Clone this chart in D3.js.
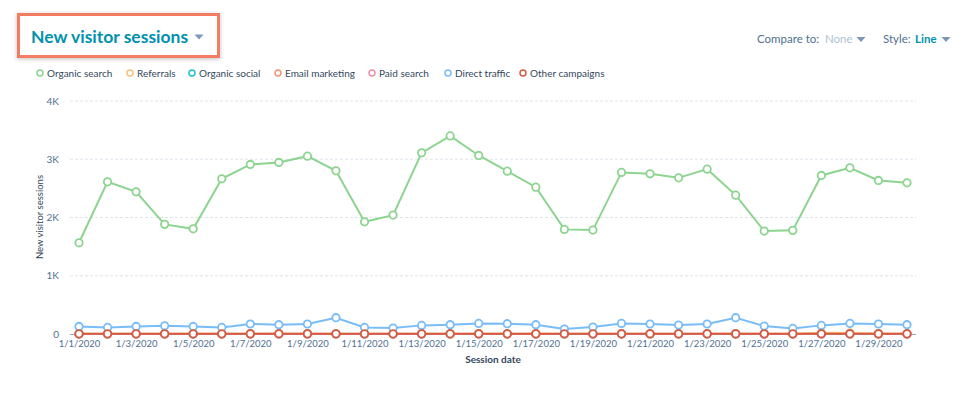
<!DOCTYPE html>
<html lang="en">
<head>
<meta charset="UTF-8">
<title>New visitor sessions</title>
<script src="https://cdn.jsdelivr.net/npm/d3@7"></script>
<style>
  body { margin: 0; background: #fff; font-family: Lato, "Open Sans", sans-serif; }
  svg text { font-family: Lato, "Open Sans", sans-serif; }
</style>
</head>
<body>
<svg id="chart" width="975" height="396"></svg>
<script>
// Data: daily values, 1/1/2020 .. 1/30/2020
var dates = d3.range(1, 31).map(function(d) { return new Date(2020, 0, d); });

var organicSearch = [1566, 2612, 2441, 1882, 1806, 2664, 2911, 2945, 3053, 2801,
                     1926, 2041, 3110, 3401, 3065, 2796, 2521, 1796, 1784, 2774,
                     2750, 2681, 2830, 2384, 1767, 1779, 2722, 2852, 2636, 2595];
var referrals = [4, 3, 4, 5, 4, 3, 6, 8, 5, 4, 3, 3, 5, 6, 6, 5, 6, 4, 5, 6,
                 6, 5, 6, 7, 5, 4, 22, 18, 8, 6];
var organicSocial = [1, 1, 1, 1, 1, 1, 1, 1, 1, 1, 1, 1, 1, 1, 1,
                     1, 1, 1, 1, 1, 1, 1, 1, 1, 1, 1, 1, 1, 1, 1];
var emailMarketing = [0, 0, 0, 0, 0, 0, 0, 0, 0, 0, 0, 0, 0, 0, 0,
                      0, 0, 0, 0, 0, 0, 0, 0, 0, 0, 0, 0, 0, 0, 0];
var paidSearch = [0, 0, 0, 0, 0, 0, 0, 0, 0, 0, 0, 0, 0, 0, 0,
                  0, 0, 0, 0, 0, 0, 0, 0, 0, 0, 0, 0, 0, 0, 0];
var directTraffic = [130, 113, 130, 142, 130, 113, 172, 160, 172, 280,
                     113, 103, 148, 160, 182, 177, 160, 86, 120, 182,
                     172, 154, 172, 280, 137, 96, 148, 182, 172, 160];
var otherCampaigns = [3, 3, 3, 3, 3, 3, 3, 4, 3, 3, 3, 3, 3, 3, 4,
                      3, 3, 4, 3, 3, 4, 3, 3, 3, 3, 3, 4, 3, 3, 3];

var seriesNames = ["Organic search", "Referrals", "Organic social", "Email marketing",
                   "Paid search", "Direct traffic", "Other campaigns"];
var seriesColors = ["#8cd48f", "#f8c27a", "#1bc3d2", "#f3937a", "#ee8fa8", "#78bcf8", "#d45a40"];
var seriesValues = [organicSearch, referrals, organicSocial, emailMarketing,
                    paidSearch, directTraffic, otherCampaigns];
var yTicks = [0, 1000, 2000, 3000, 4000];
var yTickLabels = ["0", "1K", "2K", "3K", "4K"];

var svg = d3.select("#chart");

// Title box
svg.append("rect")
  .attr("x", 18.5).attr("y", 14.5).attr("width", 200).attr("height", 42)
  .attr("fill", "#fff")
  .attr("stroke", "#f47c62")
  .attr("stroke-width", 3)
  .style("filter", "drop-shadow(0px 1px 2px rgba(0,0,0,0.25))");

svg.append("text")
  .attr("x", 31).attr("y", 43)
  .attr("font-size", "17.5px")
  .attr("font-weight", "bold")
  .attr("fill", "#0091ae")
  .text("New visitor sessions");

function caret(x, y, color) {
  svg.append("path")
    .attr("d", "M" + (x - 4.5) + "," + (y - 2.5) + "L" + (x + 4.5) + "," + (y - 2.5) + "L" + x + "," + (y + 2.5) + "Z")
    .attr("fill", color);
}
caret(199, 37, "#7c98b6");

// Compare to / Style controls
svg.append("text").attr("x", 757).attr("y", 43).attr("font-size", "11.5px")
  .attr("fill", "#516f90").text("Compare to:");
svg.append("text").attr("x", 825).attr("y", 43).attr("font-size", "11.5px")
  .attr("fill", "#b0c1d4").text("None");
caret(861, 39.5, "#7c98b6");
svg.append("text").attr("x", 883).attr("y", 43).attr("font-size", "11.5px")
  .attr("fill", "#516f90").text("Style:");
svg.append("text").attr("x", 915).attr("y", 43).attr("font-size", "11.5px")
  .attr("font-weight", "bold").attr("fill", "#0091ae").text("Line");
caret(946, 39.5, "#7c98b6");

// Legend
var legendX = [40, 130, 192, 278, 372, 448, 523];
var legend = svg.selectAll(".legend")
  .data(seriesNames)
  .enter()
  .append("g")
  .attr("class", "legend")
  .attr("transform", function(d, i) { return "translate(" + legendX[i] + ",73)"; });
legend.append("circle")
  .attr("r", 3)
  .attr("fill", "#fff")
  .attr("stroke", function(d, i) { return seriesColors[i]; })
  .attr("stroke-width", 1.5);
legend.append("text")
  .attr("x", 7).attr("y", 3.5)
  .attr("font-size", "10px")
  .attr("fill", "#33475b")
  .text(function(d) { return d; });

// Scales
var xScale = d3.scaleTime()
  .domain([dates[0], dates[dates.length - 1]])
  .range([79, 907]);
var yScale = d3.scaleLinear()
  .domain([0, 4000])
  .range([334, 101]);

// Gridlines
svg.selectAll(".grid")
  .data(yTicks.slice(1))
  .enter()
  .append("line")
  .attr("x1", 70).attr("x2", 916)
  .attr("y1", function(d) { return yScale(d); })
  .attr("y2", function(d) { return yScale(d); })
  .attr("stroke", "#dfe3eb")
  .attr("stroke-dasharray", "3,2");

// Y axis
var yAxis = svg.append("g")
  .attr("transform", "translate(62,0)")
  .call(d3.axisLeft(yScale).tickValues(yTicks).tickSize(0)
    .tickFormat(function(d, i) { return yTickLabels[i]; }));
yAxis.select(".domain").remove();
yAxis.selectAll("text").attr("font-size", "10px").attr("fill", "#516f90")
  .attr("font-family", "Lato, sans-serif");

svg.append("text")
  .attr("transform", "translate(43,217) rotate(-90)")
  .attr("text-anchor", "middle")
  .attr("font-size", "9.5px")
  .attr("fill", "#33475b")
  .text("New visitor sessions");

// X axis
var xTicks = dates.filter(function(d, i) { return i % 2 === 0; });
var xAxis = svg.append("g")
  .attr("transform", "translate(0,334)")
  .call(d3.axisBottom(xScale).tickValues(xTicks).tickSize(0)
    .tickFormat(function(d) { return (d.getMonth() + 1) + "/" + d.getDate() + "/" + d.getFullYear(); }));
xAxis.select(".domain").remove();
xAxis.selectAll("text").attr("font-size", "9.5px").attr("fill", "#516f90")
  .attr("dy", "1em").attr("font-family", "Lato, sans-serif");

svg.append("line")
  .attr("x1", 70).attr("x2", 916)
  .attr("y1", 334.5).attr("y2", 334.5)
  .attr("stroke", "#a0a8b3")
  .attr("stroke-width", 1);

svg.append("text")
  .attr("x", 493).attr("y", 363)
  .attr("text-anchor", "middle")
  .attr("font-size", "10px")
  .attr("font-weight", "bold")
  .attr("fill", "#33475b")
  .text("Session date");

// Lines and points (draw small series first, organic search last on top)
var line = d3.line()
  .x(function(d, i) { return xScale(dates[i]); })
  .y(function(d) { return yScale(d); });

var order = [1, 2, 3, 4, 5, 6, 0];
order.forEach(function(k) {
  var g = svg.append("g");
  g.append("path")
    .datum(seriesValues[k])
    .attr("d", line)
    .attr("fill", "none")
    .attr("stroke", seriesColors[k])
    .attr("stroke-width", 2);
  g.selectAll("circle")
    .data(seriesValues[k])
    .enter()
    .append("circle")
    .attr("cx", function(d, i) { return xScale(dates[i]); })
    .attr("cy", function(d) { return yScale(d); })
    .attr("r", 3.7)
    .attr("fill", "#fff")
    .attr("stroke", seriesColors[k])
    .attr("stroke-width", 1.8);
});
</script>
</body>
</html>
